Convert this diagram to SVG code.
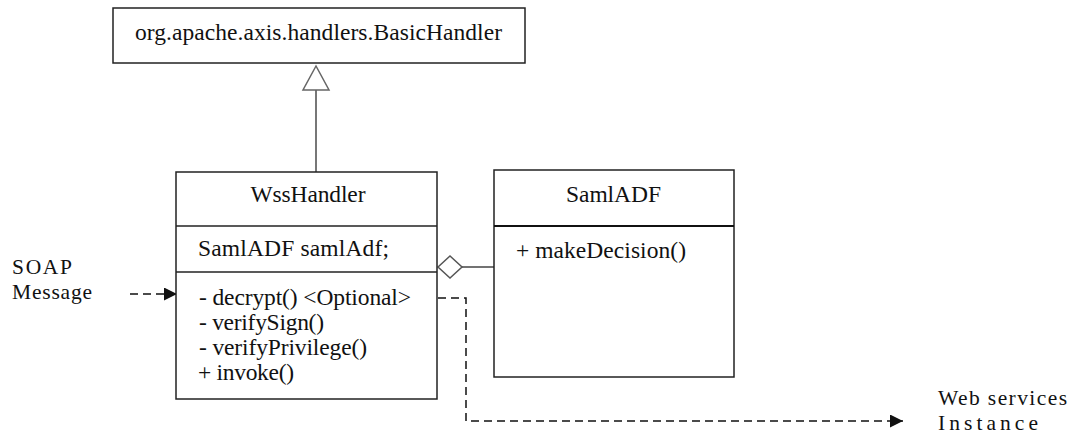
<svg xmlns="http://www.w3.org/2000/svg" width="1068" height="433" viewBox="0 0 1068 433">
<style>
.box{fill:#fff;stroke:#222;stroke-width:1.5}
.div{stroke:#222;stroke-width:1.5}
.t{font-family:"Liberation Serif","Times New Roman",serif;font-size:23.5px;fill:#111}
.s{font-size:21.5px}
.c{text-anchor:middle}
.dash{fill:none;stroke:#111;stroke-width:1.5;stroke-dasharray:8,5}
</style>
<defs>
<marker id="arr" viewBox="0 0 13 13" refX="13" refY="6.5" markerWidth="13" markerHeight="13" markerUnits="userSpaceOnUse" orient="auto">
<path d="M0,0 L13,6.5 L0,13 Z" fill="#111"/>
</marker>
</defs>
<rect width="1068" height="433" fill="#fff"/>
<g id="connectors">
<line x1="316" y1="90" x2="316" y2="172" stroke="#777" stroke-width="2"/>
<polygon points="316,66 303,90 329,90" fill="#fff" stroke="#666" stroke-width="1.5"/>
<line x1="462" y1="267" x2="494" y2="267" stroke="#444" stroke-width="1.5"/>
<polygon points="438,267 450,256 462,267 450,278" fill="#fff" stroke="#555" stroke-width="1.5"/>
<line class="dash" x1="130" y1="294" x2="177" y2="294" marker-end="url(#arr)"/>
<polyline class="dash" points="438,298 466,298 466,421 903,421" marker-end="url(#arr)"/>
</g>
<g id="basicHandler">
<rect class="box" x="113" y="8" width="412" height="55"/>
<text class="t c" x="318.5" y="40" textLength="367" lengthAdjust="spacing">org.apache.axis.handlers.BasicHandler</text>
</g>
<g id="wssHandler">
<rect class="box" x="176" y="172" width="261" height="227"/>
<line class="div" x1="176" y1="226" x2="437" y2="226"/>
<line class="div" x1="176" y1="272" x2="437" y2="272"/>
<text class="t c" x="308" y="202" textLength="115" lengthAdjust="spacing">WssHandler</text>
<text class="t" x="198" y="256" textLength="191" lengthAdjust="spacing">SamlADF samlAdf;</text>
<text class="t" x="199" y="305" textLength="212" lengthAdjust="spacing">- decrypt() &lt;Optional&gt;</text>
<text class="t" x="199" y="330" textLength="125" lengthAdjust="spacing">- verifySign()</text>
<text class="t" x="199" y="355" textLength="168" lengthAdjust="spacing">- verifyPrivilege()</text>
<text class="t" x="198" y="380" textLength="96" lengthAdjust="spacing">+ invoke()</text>
</g>
<g id="samlADF">
<rect class="box" x="494" y="170" width="240" height="207"/>
<line x1="494" y1="226" x2="734" y2="226" stroke="#111" stroke-width="2.2"/>
<text class="t c" x="613.5" y="202" textLength="95" lengthAdjust="spacing">SamlADF</text>
<text class="t" x="516" y="258" textLength="170" lengthAdjust="spacing">+ makeDecision()</text>
</g>
<g id="soapMessage">
<text class="t s" x="12" y="274" textLength="60" lengthAdjust="spacing">SOAP</text>
<text class="t s" x="12" y="299" textLength="80" lengthAdjust="spacing">Message</text>
</g>
<g id="webServicesInstance">
<text class="t s" x="938" y="405" textLength="129" lengthAdjust="spacing">Web services</text>
<text class="t s" x="938" y="430" textLength="100" lengthAdjust="spacing">Instance</text>
</g>
</svg>
